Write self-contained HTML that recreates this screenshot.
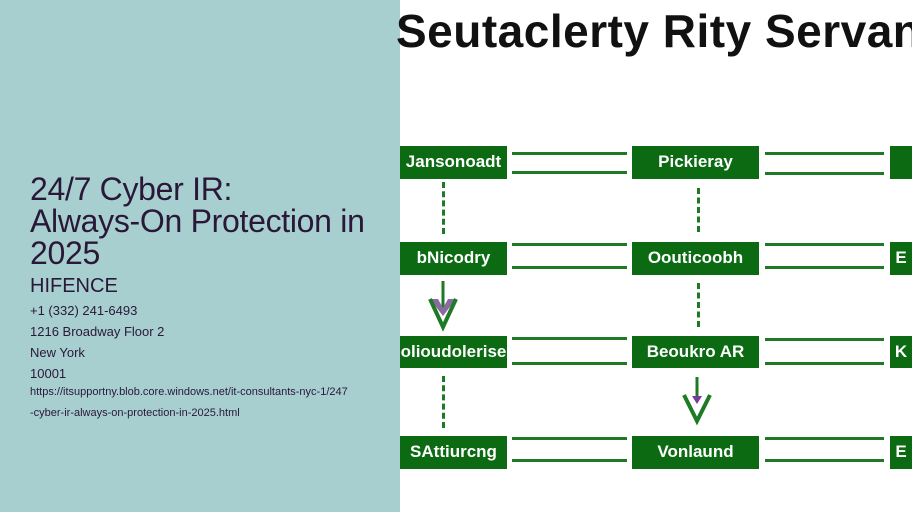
<!DOCTYPE html>
<html><head><style>
body{margin:0;width:912px;height:512px;overflow:hidden;position:relative;font-family:"Liberation Sans",sans-serif;background:#fff}
.left{position:absolute;left:0;top:0;width:400px;height:512px;background:#a7cfd0}
.t{position:absolute;color:#2a1838;white-space:nowrap}
.b{position:absolute;background:#0b6a12;color:#fff;font-weight:bold;font-size:17px;text-align:center;line-height:32px;overflow:hidden;white-space:nowrap}
.l{position:absolute;height:3px;background:#1f7a25}
.d{position:absolute;width:3px;border-left:3px dashed #1f7a25}
</style></head><body>
<div class="left"></div>
<div class="t" style="left:30px;top:173px;font-size:32px;line-height:32px;letter-spacing:-0.3px">24/7 Cyber IR:<br>Always-On Protection in<br>2025</div>
<div class="t" style="left:30px;top:275px;font-size:20px">HIFENCE</div>
<div class="t" style="left:30px;top:300px;font-size:13px;line-height:21px">+1 (332) 241-6493<br>1216 Broadway Floor 2<br>New York<br>10001</div>
<div class="t" style="left:30px;top:382px;font-size:11px;line-height:21px">https://itsupportny.blob.core.windows.net/it-consultants-nyc-1/247<br>-cyber-ir-always-on-protection-in-2025.html</div>
<div class="t" style="left:396px;top:4px;font-size:46px;font-weight:bold;color:#111;letter-spacing:0.5px">Seutaclerty Rity Servan</div>

<div class="b" style="left:400px;top:146px;width:107px;height:33px">Jansonoadt</div>
<div class="b" style="left:632px;top:146px;width:127px;height:33px">Pickieray</div>
<div class="b" style="left:890px;top:146px;width:22px;height:33px"></div>
<div class="b" style="left:400px;top:242px;width:107px;height:33px">bNicodry</div>
<div class="b" style="left:632px;top:242px;width:127px;height:33px">Oouticoobh</div>
<div class="b" style="left:890px;top:242px;width:22px;height:33px">E</div>
<div class="b" style="left:400px;top:336px;width:107px;height:32px">olioudolerise</div>
<div class="b" style="left:632px;top:336px;width:127px;height:32px">Beoukro AR</div>
<div class="b" style="left:890px;top:336px;width:22px;height:32px">K</div>
<div class="b" style="left:400px;top:436px;width:107px;height:33px">SAttiurcng</div>
<div class="b" style="left:632px;top:436px;width:127px;height:33px">Vonlaund</div>
<div class="b" style="left:890px;top:436px;width:22px;height:33px">E</div>

<div class="l" style="left:512px;top:152px;width:115px"></div><div class="l" style="left:512px;top:171px;width:115px"></div>
<div class="l" style="left:765px;top:152px;width:119px"></div><div class="l" style="left:765px;top:172px;width:119px"></div>
<div class="l" style="left:512px;top:243px;width:115px"></div><div class="l" style="left:512px;top:266px;width:115px"></div>
<div class="l" style="left:765px;top:243px;width:119px"></div><div class="l" style="left:765px;top:266px;width:119px"></div>
<div class="l" style="left:512px;top:337px;width:115px"></div><div class="l" style="left:512px;top:362px;width:115px"></div>
<div class="l" style="left:765px;top:338px;width:119px"></div><div class="l" style="left:765px;top:362px;width:119px"></div>
<div class="l" style="left:512px;top:437px;width:115px"></div><div class="l" style="left:512px;top:459px;width:115px"></div>
<div class="l" style="left:765px;top:437px;width:119px"></div><div class="l" style="left:765px;top:459px;width:119px"></div>

<div class="d" style="left:442px;top:182px;height:52px"></div>
<div class="d" style="left:697px;top:188px;height:44px"></div>
<div class="d" style="left:697px;top:283px;height:44px"></div>
<div class="d" style="left:442px;top:376px;height:52px"></div>
<svg style="position:absolute;left:0;top:0" width="912" height="512">
<line x1="443" y1="281" x2="443" y2="310" stroke="#1f7a25" stroke-width="3"/>
<polygon points="430,299 443,316 456,299 448,299 443,308 438,299" fill="#8a6aa0"/>
<polyline points="430,299 443,327 456,299" fill="none" stroke="#1f7a25" stroke-width="4"/>
<line x1="697" y1="377" x2="697" y2="398" stroke="#1f7a25" stroke-width="3"/>
<polygon points="692,396 697,404 702,396" fill="#7a3a9a"/>
<polyline points="684,395 697,421 710,395" fill="none" stroke="#1f7a25" stroke-width="4"/>
</svg>
</body></html>
